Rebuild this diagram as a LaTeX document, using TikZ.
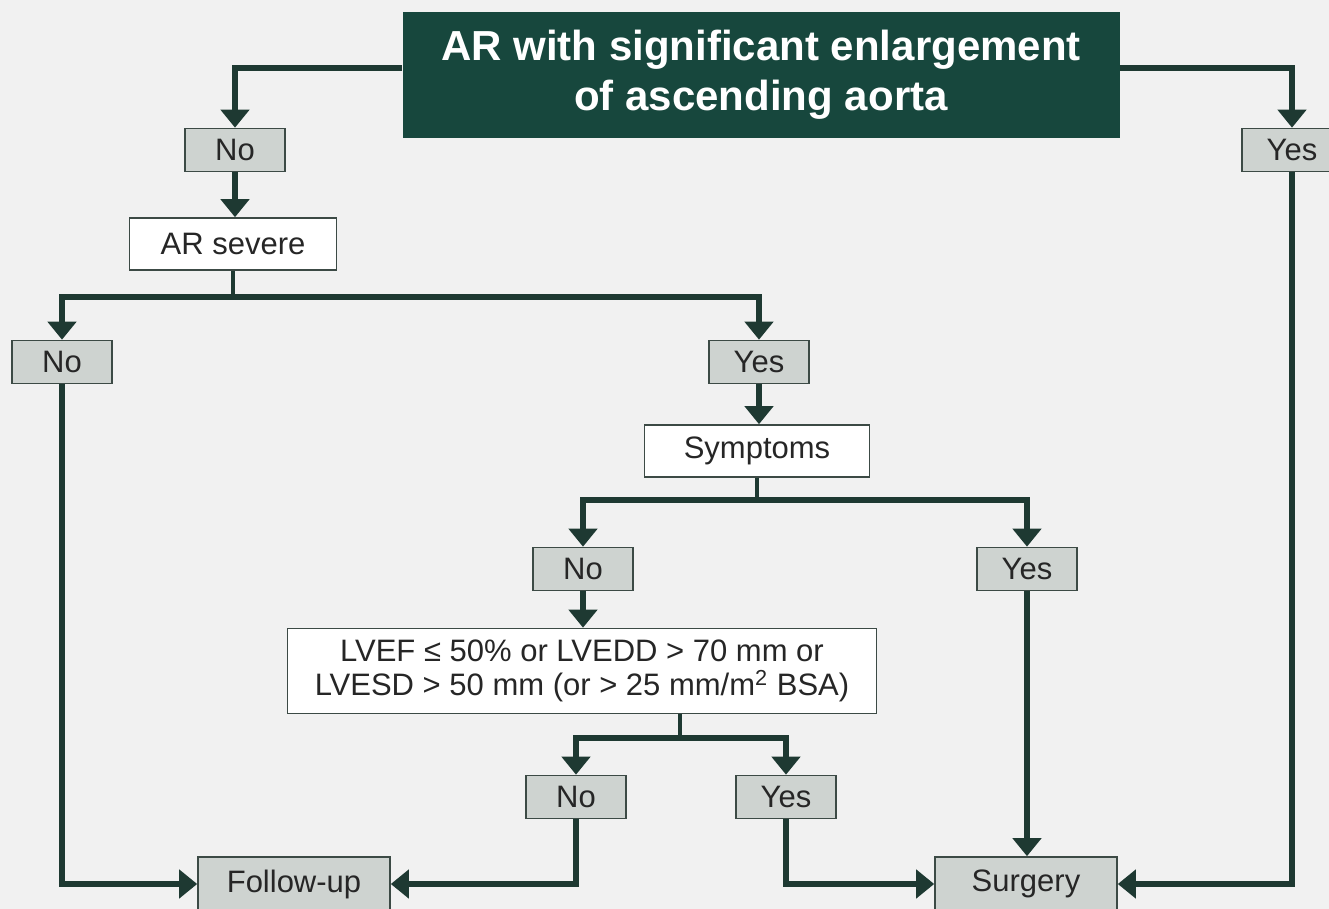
\documentclass[tikz,border=0pt]{standalone}
\usepackage{fontspec}
\setmainfont{Liberation Sans}
\usepackage{tikz}
\usetikzlibrary{calc,positioning,arrows.meta}

\definecolor{titlegreen}{HTML}{17473D}
\definecolor{linegreen}{HTML}{1E3932}
\definecolor{boxgrey}{HTML}{CED3D0}
\definecolor{edgegrey}{HTML}{3C4A45}
\definecolor{bgcol}{HTML}{F1F1F1}

\begin{document}
\begin{tikzpicture}[x=0.5pt,y=-0.5pt,
  titlebox/.style={fill=titlegreen,text=white,align=center,inner sep=0pt,font=\bfseries\fontsize{21}{25}\selectfont,minimum width=358.5pt,minimum height=63pt},
  ans/.style={fill=boxgrey,draw=edgegrey,line width=0.8pt,inner sep=0pt,minimum width=50pt,minimum height=21.5pt,text=black!85,font=\fontsize{15.5}{17}\selectfont},
  ques/.style={fill=white,draw=edgegrey,line width=0.8pt,inner sep=0pt,minimum height=26pt,align=center,text=black!85,font=\fontsize{15.5}{17}\selectfont},
  link/.style={draw=linegreen,line width=2.7pt,-{Triangle[width=14pt,length=9pt]}},
  stem/.style={draw=linegreen,line width=1.6pt}]
  \fill[bgcol] (0,0) rectangle (1329,909);
  \useasboundingbox (0,0) rectangle (1329,909);

  \node[titlebox] (title) at (761,75) {AR with significant enlargement\\of ascending aorta};

  \node[ans] (no1) at (235,150) {No};
  \node[ans] (yes1) at (1292,150) {Yes};
  \node[ques,minimum width=103.5pt] (sev) at (233,244) {AR severe};
  \node[ans] (no2) at (62,362) {No};
  \node[ans] (yes2) at (759,362) {Yes};
  \node[ques,minimum width=112.5pt] (sym) at (757,451) {Symptoms};
  \node[ans] (no3) at (583,569) {No};
  \node[ans] (yes3) at (1027,569) {Yes};
  \node[ques,minimum width=294.5pt,minimum height=42.5pt] (lv) at (582,671) {LVEF ≤ 50\% or LVEDD > 70 mm or\\LVESD > 50 mm (or > 25 mm/m\textsuperscript{2} BSA)};
  \node[ans] (no4) at (576,797) {No};
  \node[ans] (yes4) at (786,797) {Yes};
  \node[ans,minimum width=96pt,minimum height=27pt] (follow) at (294,884) {Follow-up};
  \node[ans,minimum width=91pt,minimum height=27pt] (surg) at (1026,884) {Surgery};

  \coordinate (s1) at (233,297);
  \coordinate (s2) at (757,500);
  \coordinate (s3) at (680,738);

  \draw[link] ([yshift=3.5pt]title.west) -| (no1);
  \draw[link] ([yshift=3.5pt]title.east) -| (yes1);
  \draw[link] (no1) -- (no1 |- sev.north);
  \draw[stem] (sev.south) -- (s1);
  \draw[link] (s1) -| (no2);
  \draw[link] (s1) -| (yes2);
  \draw[link] (yes2) -- (yes2 |- sym.north);
  \draw[stem] (sym.south) -- (s2);
  \draw[link] (s2) -| (no3);
  \draw[link] (s2) -| (yes3);
  \draw[link] (no3) -- (no3 |- lv.north);
  \draw[stem] (s3 |- lv.south) -- (s3);
  \draw[link] (s3) -| (no4);
  \draw[link] (s3) -| (yes4);
  \draw[link] (no2) |- (follow);
  \draw[link] (no4) |- (follow);
  \draw[link] (yes4) |- (surg);
  \draw[link] (yes3) -- (yes3 |- surg.north);
  \draw[link] (yes1) |- (surg);
 \end{tikzpicture}
\end{document}
